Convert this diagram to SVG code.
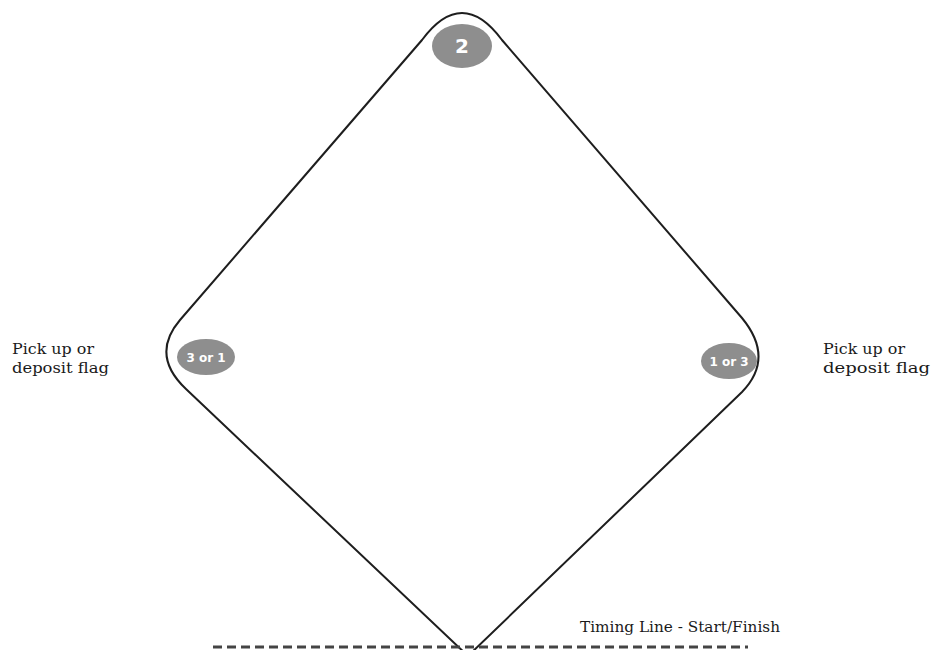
<svg xmlns="http://www.w3.org/2000/svg" width="933" height="650" viewBox="0 0 933 650">
<style>
.lbl{font-family:"DejaVu Serif","Liberation Serif",serif;font-size:15px;fill:#1a1a1a}
.flag{fill:#8e8e8e}
.ft{font-family:"DejaVu Sans","Liberation Sans",sans-serif;font-weight:bold;fill:#fff;text-anchor:middle}
</style>
<rect width="933" height="650" fill="#fff"/>
<g id="connectors">
<path d="M468,656 L186,389 Q150,355 180,320 L422,40 Q462,-14 502,40 L742,318 Q775,358 742,392 L468,656" fill="none" stroke="#1e1e1e" stroke-width="2"/>
<line x1="213" y1="647" x2="748" y2="647" stroke="#444" stroke-width="3" stroke-dasharray="9,5"/>
</g>
<g id="flag2">
<ellipse class="flag" cx="462" cy="46" rx="30" ry="22"/>
<text class="ft" x="462" y="53" font-size="20">2</text>
</g>
<g id="flagLeft">
<ellipse class="flag" cx="206" cy="357" rx="29" ry="18"/>
<text class="ft" x="206" y="362" font-size="12">3 or 1</text>
</g>
<g id="flagRight">
<ellipse class="flag" cx="729" cy="361" rx="28" ry="18"/>
<text class="ft" x="729" y="366" font-size="12">1 or 3</text>
</g>
<g id="labelLeft">
<text class="lbl" x="12" y="354" textLength="82" lengthAdjust="spacingAndGlyphs">Pick up or</text>
<text class="lbl" x="12" y="373" textLength="97" lengthAdjust="spacingAndGlyphs">deposit flag</text>
</g>
<g id="labelRight">
<text class="lbl" x="823" y="354" textLength="82" lengthAdjust="spacingAndGlyphs">Pick up or</text>
<text class="lbl" x="823" y="373" textLength="107" lengthAdjust="spacingAndGlyphs">deposit flag</text>
</g>
<g id="timing">
<text class="lbl" x="580" y="632" textLength="200" lengthAdjust="spacingAndGlyphs">Timing Line - Start/Finish</text>
</g>
</svg>
